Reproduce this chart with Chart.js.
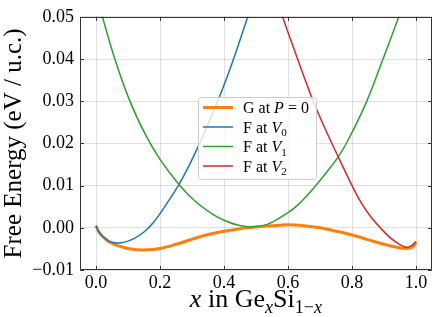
<!DOCTYPE html>
<html>
<head>
<meta charset="utf-8">
<script src="https://cdn.jsdelivr.net/npm/chart.js@4.4.0/dist/chart.umd.min.js"></script>
<style>
html, body { margin: 0; padding: 0; background: #fff; }
</style>
</head>
<body>
<canvas id="free-energy" width="436" height="317"></canvas>
<script>
// G at P = 0
const gX = [0, 0.005, 0.01, 0.02, 0.03, 0.04, 0.06, 0.08, 0.10, 0.13, 0.16, 0.20, 0.25, 0.30, 0.35, 0.40, 0.45, 0.50, 0.55, 0.60, 0.65, 0.70, 0.75, 0.80, 0.85, 0.90, 0.94, 0.97, 0.985, 0.995, 1.0];
const gY = [0.0005, -0.0004, -0.0011, -0.0020, -0.0027, -0.0033, -0.0040, -0.0045, -0.0049, -0.0052, -0.0052, -0.0049, -0.0039, -0.0027, -0.0016, -0.0008, -0.0002, 0.0002, 0.0005, 0.0007, 0.0005, 0.0000, -0.0008, -0.0017, -0.0028, -0.0039, -0.0046, -0.0049, -0.0047, -0.0041, -0.0033];

// F at V0
const v0X = [0, 0.005, 0.01, 0.02, 0.03, 0.04, 0.05, 0.068, 0.09, 0.12, 0.15, 0.18, 0.22, 0.258, 0.29, 0.322, 0.35, 0.379, 0.40, 0.428, 0.45, 0.472, 0.49];
const v0Y = [0.0005, -0.0004, -0.0011, -0.0020, -0.0026, -0.0031, -0.0034, -0.0036, -0.0034, -0.0025, -0.0010, 0.0013, 0.0056, 0.0101, 0.0146, 0.0197, 0.0245, 0.0298, 0.0338, 0.0396, 0.0445, 0.0495, 0.0537];

// F at V1
const v1X = [0, 0.02, 0.058, 0.105, 0.155, 0.20, 0.258, 0.31, 0.369, 0.40, 0.44, 0.483, 0.535, 0.60, 0.632, 0.68, 0.72, 0.757, 0.788, 0.844, 0.897, 0.946, 0.97];
const v1Y = [0.0555, 0.0500, 0.0402, 0.0302, 0.0220, 0.0162, 0.0104, 0.0063, 0.0030, 0.0018, 0.0007, 0.0002, 0.0008, 0.0036, 0.0055, 0.0094, 0.0131, 0.0168, 0.0208, 0.0296, 0.0400, 0.0500, 0.0555];

// F at V2
const v2X = [0.56, 0.583, 0.63, 0.679, 0.726, 0.757, 0.80, 0.83, 0.86, 0.8885, 0.92, 0.95, 0.969, 0.985, 1.0];
const v2Y = [0.0555, 0.0500, 0.0400, 0.0300, 0.0218, 0.0168, 0.0100, 0.0058, 0.0025, 0.0000, -0.0024, -0.0040, -0.0046, -0.0043, -0.0033];

const xTicks = [0, 0.2, 0.4, 0.6, 0.8, 1.0];
const yTicks = [-0.01, 0, 0.01, 0.02, 0.03, 0.04, 0.05];

const serif = '"Liberation Serif", "Times New Roman", serif';
const gridColor = 'rgba(0,0,0,0.12)';

function pts(xs, ys) {
    return xs.map((x, i) => ({ x: x, y: ys[i] }));
}

function line(label, xs, ys, color, width, order) {
    return {
        label: label,
        data: pts(xs, ys),
        borderColor: color,
        backgroundColor: color,
        borderWidth: width,
        tension: 0.35,
        pointRadius: 0,
        fill: false,
        clip: 0,
        order: order
    };
}

// text with italic parts and subscripts
function richWidth(ctx, segs, size) {
    let w = 0;
    segs.forEach(s => {
        const sz = s.sub ? size * 0.7 : size;
        ctx.font = (s.it ? 'italic ' : '') + sz + 'px ' + serif;
        w += ctx.measureText(s.t).width;
    });
    return w;
}

function drawRich(ctx, segs, x, y, size) {
    let cx = x;
    segs.forEach(s => {
        const sz = s.sub ? size * 0.7 : size;
        ctx.font = (s.it ? 'italic ' : '') + sz + 'px ' + serif;
        ctx.fillText(s.t, cx, s.sub ? y + size * 0.22 : y);
        cx += ctx.measureText(s.t).width;
    });
}

const legendItems = [
    { color: '#ff7f0e', width: 3, segs: [{ t: 'G at ' }, { t: 'P', it: true }, { t: ' = 0' }] },
    { color: '#1f77b4', width: 1.5, segs: [{ t: 'F at ' }, { t: 'V', it: true }, { t: '0', sub: true }] },
    { color: '#2ca02c', width: 1.5, segs: [{ t: 'F at ' }, { t: 'V', it: true }, { t: '1', sub: true }] },
    { color: '#d62728', width: 1.5, segs: [{ t: 'F at ' }, { t: 'V', it: true }, { t: '2', sub: true }] }
];

const decor = {
    id: 'decor',
    afterDraw(chart) {
        const ctx = chart.ctx;
        const a = chart.chartArea;
        const xs = chart.scales.x, ys = chart.scales.y;
        ctx.save();

        // frame and inward ticks
        ctx.strokeStyle = '#333';
        ctx.lineWidth = 1;
        ctx.beginPath();
        ctx.rect(Math.round(a.left) + 0.5, Math.round(a.top) + 0.5, Math.round(a.right - a.left) - 1, Math.round(a.bottom - a.top) - 1);
        ctx.stroke();
        ctx.beginPath();
        xTicks.forEach(v => {
            const px = Math.round(xs.getPixelForValue(v)) + 0.5;
            ctx.moveTo(px, a.bottom); ctx.lineTo(px, a.bottom - 4);
            ctx.moveTo(px, a.top); ctx.lineTo(px, a.top + 4);
        });
        yTicks.forEach(v => {
            const py = Math.round(ys.getPixelForValue(v)) + 0.5;
            ctx.moveTo(a.left, py); ctx.lineTo(a.left + 4, py);
            ctx.moveTo(a.right, py); ctx.lineTo(a.right - 4, py);
        });
        ctx.stroke();

        ctx.fillStyle = '#000';
        ctx.textBaseline = 'alphabetic';

        // y title
        ctx.save();
        ctx.translate(14, (a.top + a.bottom) / 2);
        ctx.rotate(-Math.PI / 2);
        ctx.font = '25px ' + serif;
        ctx.textAlign = 'center';
        ctx.textBaseline = 'middle';
        ctx.fillText('Free Energy (eV / u.c.)', 0, 0);
        ctx.restore();

        // x title
        ctx.textAlign = 'left';
        const xt = [{ t: 'x', it: true }, { t: ' in Ge' }, { t: 'x', it: true, sub: true }, { t: 'Si' }, { t: '1\u2212', sub: true }, { t: 'x', it: true, sub: true }];
        const tw = richWidth(ctx, xt, 26);
        drawRich(ctx, xt, (a.left + a.right) / 2 - tw / 2, 307, 26);

        // legend
        const bx = 198, by = 97, bw = 118, bh = 82;
        ctx.beginPath();
        ctx.roundRect(bx + 0.5, by + 0.5, bw, bh, 3);
        ctx.fillStyle = 'rgba(255,255,255,0.8)';
        ctx.fill();
        ctx.strokeStyle = '#cccccc';
        ctx.stroke();
        const rows = [107.5, 127, 146.5, 166];
        legendItems.forEach((it, i) => {
            ctx.strokeStyle = it.color;
            ctx.lineWidth = it.width;
            ctx.beginPath();
            ctx.moveTo(203, rows[i]);
            ctx.lineTo(233, rows[i]);
            ctx.stroke();
            ctx.fillStyle = '#000';
            drawRich(ctx, it.segs, 243, rows[i] + 5.5, 16);
        });
        ctx.restore();
    }
};

const config = {
    type: 'line',
    data: {
        datasets: [
            line('G at P = 0', gX, gY, '#ff7f0e', 3, 4),
            line('F at V0', v0X, v0Y, '#1f77b4', 1.5, 3),
            line('F at V1', v1X, v1Y, '#2ca02c', 1.5, 2),
            line('F at V2', v2X, v2Y, '#d62728', 1.5, 1)
        ]
    },
    options: {
        responsive: false,
        animation: false,
        devicePixelRatio: 1,
        layout: {
            padding: { top: 6, right: 4, left: 0, bottom: 0 }
        },
        plugins: {
            legend: { display: false },
            tooltip: { enabled: false }
        },
        scales: {
            x: {
                type: 'linear',
                min: -0.05,
                max: 1.05,
                afterBuildTicks: s => { s.ticks = xTicks.map(v => ({ value: v })); },
                afterFit: s => { s.height = 47; },
                grid: { color: gridColor, drawTicks: false },
                border: { display: false },
                ticks: {
                    color: '#000',
                    font: { family: serif, size: 18 },
                    padding: 2,
                    maxRotation: 0,
                    autoSkip: false,
                    callback: v => v.toFixed(1)
                }
            },
            y: {
                type: 'linear',
                min: -0.01,
                max: 0.05,
                afterBuildTicks: s => { s.ticks = yTicks.map(v => ({ value: v })); },
                afterFit: s => { s.width = 80; },
                grid: { color: gridColor, drawTicks: false },
                border: { display: false },
                ticks: {
                    color: '#000',
                    font: { family: serif, size: 18 },
                    padding: 6,
                    autoSkip: false,
                    callback: v => (v < -1e-9 ? '\u2212' : '') + Math.abs(v).toFixed(2)
                }
            }
        }
    },
    plugins: [decor]
};

const energyChart = new Chart(
    document.getElementById('free-energy'),
    config
);
</script>
</body>
</html>
